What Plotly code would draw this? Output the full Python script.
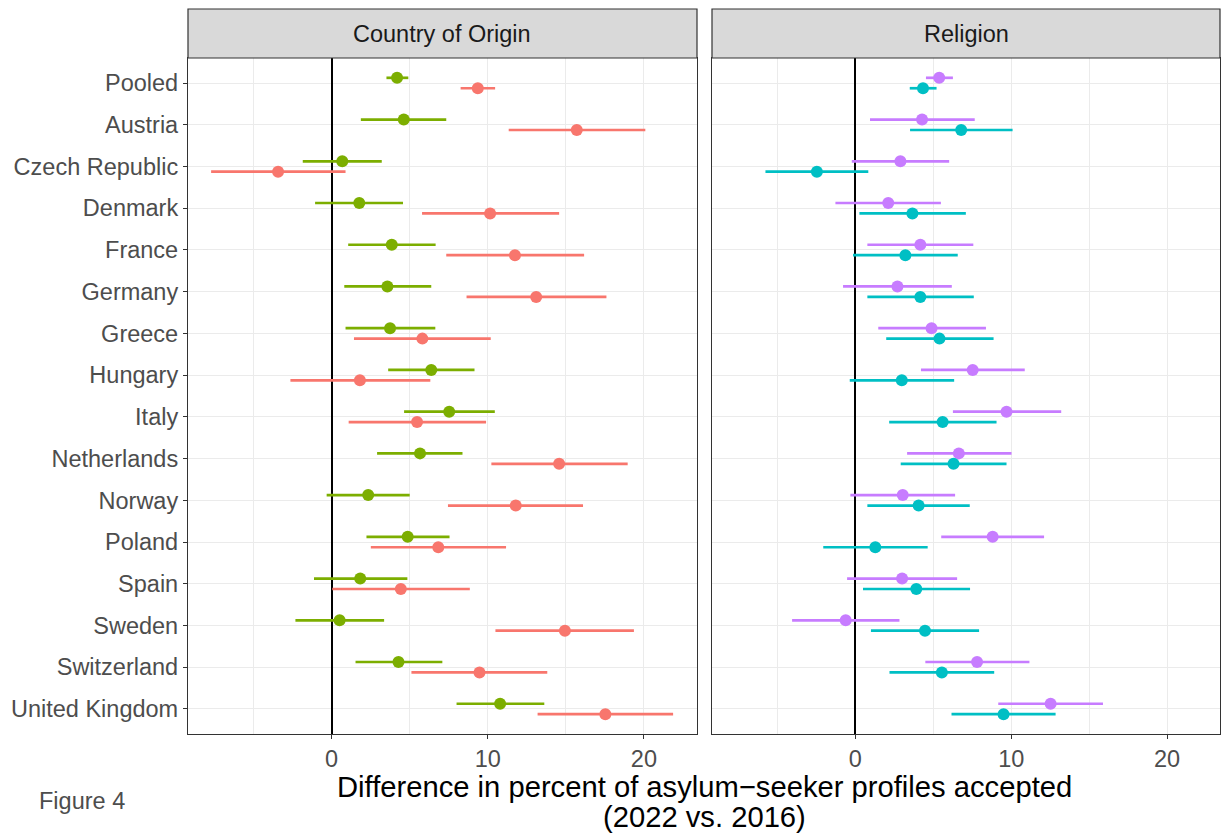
import plotly.graph_objects as go

countries = ["Pooled", "Austria", "Czech Republic", "Denmark", "France", "Germany",
             "Greece", "Hungary", "Italy", "Netherlands", "Norway", "Poland",
             "Spain", "Sweden", "Switzerland", "United Kingdom"]

# Country of Origin facet
origin_a_est = [4.19, 4.62, 0.68, 1.77, 3.85, 3.57, 3.74, 6.38, 7.53, 5.66, 2.34, 4.87, 1.83, 0.51, 4.28, 10.79]
origin_a_lo = [3.51, 1.87, -1.85, -1.06, 1.06, 0.81, 0.89, 3.62, 4.64, 2.91, -0.32, 2.23, -1.13, -2.32, 1.53, 8.00]
origin_a_hi = [4.91, 7.34, 3.21, 4.57, 6.66, 6.38, 6.64, 9.15, 10.45, 8.38, 5.00, 7.55, 4.85, 3.36, 7.09, 13.62]

origin_b_est = [9.36, 15.70, -3.43, 10.15, 11.74, 13.10, 5.81, 1.81, 5.47, 14.57, 11.79, 6.83, 4.43, 14.94, 9.47, 17.53]
origin_b_lo = [8.26, 11.34, -7.72, 5.79, 7.34, 8.64, 1.43, -2.64, 1.09, 10.23, 7.45, 2.51, 0.04, 10.49, 5.11, 13.19]
origin_b_hi = [10.47, 20.09, 0.89, 14.57, 16.17, 17.60, 10.19, 6.32, 9.89, 18.96, 16.10, 11.17, 8.85, 19.36, 13.81, 21.87]

# Religion facet
religion_a_est = [5.38, 4.28, 2.89, 2.11, 4.17, 2.70, 4.89, 7.53, 9.70, 6.64, 3.04, 8.81, 3.00, -0.62, 7.81, 12.53]
religion_a_lo = [4.53, 0.94, -0.23, -1.28, 0.77, -0.79, 1.47, 4.21, 6.26, 3.32, -0.32, 5.51, -0.53, -4.06, 4.49, 9.17]
religion_a_hi = [6.26, 7.66, 6.02, 5.49, 7.57, 6.19, 8.38, 10.87, 13.21, 10.02, 6.40, 12.11, 6.53, 2.83, 11.17, 15.89]

religion_b_est = [4.34, 6.79, -2.47, 3.66, 3.21, 4.17, 5.40, 2.98, 5.60, 6.30, 4.06, 1.28, 3.91, 4.47, 5.55, 9.51]
religion_b_lo = [3.49, 3.51, -5.77, 0.26, -0.15, 0.77, 1.98, -0.36, 2.17, 2.91, 0.77, -2.06, 0.49, 1.00, 2.19, 6.17]
religion_b_hi = [5.21, 10.09, 0.83, 7.09, 6.57, 7.60, 8.87, 6.34, 9.06, 9.70, 7.34, 4.64, 7.36, 7.94, 8.91, 12.85]

facet_titles = ["Country of Origin", "Religion"]
x_ticks = [0, 10, 20]
x_minor = [-5, 5, 15]
title_lines = ["Difference in percent of asylum\u2212seeker profiles accepted", "(2022 vs. 2016)"]
tag_text = "Figure 4"

W, H = 1221, 833
DODGE = 0.125


def px_x(p):
    return p / W


def px_y(p):
    return 1 - p / H


fig = go.Figure()


def add_series(est, lo, hi, color, offset, xa, ya, name):
    ypos = [i + offset for i in range(len(countries))]
    fig.add_trace(go.Scatter(
        x=est, y=ypos, mode="markers", name=name, showlegend=False,
        xaxis=xa, yaxis=ya,
        marker=dict(size=12, color=color, line=dict(width=0)),
        error_x=dict(type="data", symmetric=False,
                     array=[h - e for e, h in zip(est, hi)],
                     arrayminus=[e - l for e, l in zip(est, lo)],
                     width=0, thickness=2.7, color=color),
        text=countries,
    ))


add_series(origin_a_est, origin_a_lo, origin_a_hi, "#7CAE00", -DODGE, "x", "y", "Origin A")
add_series(origin_b_est, origin_b_lo, origin_b_hi, "#F8766D", DODGE, "x", "y", "Origin B")
add_series(religion_a_est, religion_a_lo, religion_a_hi, "#C77CFF", -DODGE, "x2", "y2", "Religion A")
add_series(religion_b_est, religion_b_lo, religion_b_hi, "#00BFC4", DODGE, "x2", "y2", "Religion B")

left_dom = [px_x(188), px_x(697)]
right_dom = [px_x(712), px_x(1220)]
y_dom = [px_y(734), px_y(58)]
xrange = [-9.2, 23.4]

xcommon = dict(
    range=xrange, tickvals=x_ticks, showgrid=True, gridcolor="#EBEBEB", gridwidth=1.1,
    minor=dict(tickvals=x_minor, showgrid=True, gridcolor="#EBEBEB", gridwidth=0.6),
    zeroline=True, zerolinecolor="black", zerolinewidth=2,
    showline=True, mirror=True, linecolor="#333333", linewidth=1.2,
    ticks="outside", ticklen=4, tickwidth=1.1, tickcolor="#333333",
    tickfont=dict(size=23.5, color="#4D4D4D"), fixedrange=True,
)
ycommon = dict(
    range=[15.6, -0.6], tickvals=list(range(len(countries))), ticktext=countries,
    showgrid=True, gridcolor="#EBEBEB", gridwidth=1.1, zeroline=False,
    showline=True, mirror=True, linecolor="#333333", linewidth=1.2,
    domain=y_dom, fixedrange=True,
)

fig.update_layout(
    width=W, height=H,
    margin=dict(l=0, r=0, t=0, b=0),
    paper_bgcolor="white", plot_bgcolor="white",
    font=dict(family="Liberation Sans, Arial, sans-serif", color="#4D4D4D"),
    xaxis=dict(domain=left_dom, anchor="y", **xcommon),
    xaxis2=dict(domain=right_dom, anchor="y2", **xcommon),
    yaxis=dict(anchor="x", ticks="outside", ticklen=4, tickwidth=1.1, tickcolor="#333333",
               tickfont=dict(size=23.5, color="#4D4D4D"), **ycommon),
    yaxis2=dict(anchor="x2", matches="y", showticklabels=False, ticks="", **ycommon),
)

# facet strips
for dom, title in zip([left_dom, right_dom], facet_titles):
    fig.add_shape(type="rect", xref="paper", yref="paper",
                  x0=dom[0], x1=dom[1], y0=px_y(58), y1=px_y(9),
                  fillcolor="#D9D9D9", line=dict(color="#333333", width=1.2))
    fig.add_annotation(xref="paper", yref="paper", x=(dom[0] + dom[1]) / 2,
                       y=(px_y(58) + px_y(9)) / 2, text=title, showarrow=False,
                       xanchor="center", yanchor="middle",
                       font=dict(size=23.5, color="#1A1A1A"))

for line, ypix in zip(title_lines, [787, 817]):
    fig.add_annotation(xref="paper", yref="paper", x=px_x(704.5), y=px_y(ypix),
                       text=line, showarrow=False, xanchor="center", yanchor="middle",
                       font=dict(size=29.2, color="black"))

fig.add_annotation(xref="paper", yref="paper", x=px_x(37), y=px_y(801),
                   text=tag_text, showarrow=False, xanchor="left", yanchor="middle",
                   font=dict(size=23.5, color="#4D4D4D"))

fig.write_html("out.html", config={"displayModeBar": False},
               post_script="document.body.style.margin='0';document.body.style.overflow='hidden';")
